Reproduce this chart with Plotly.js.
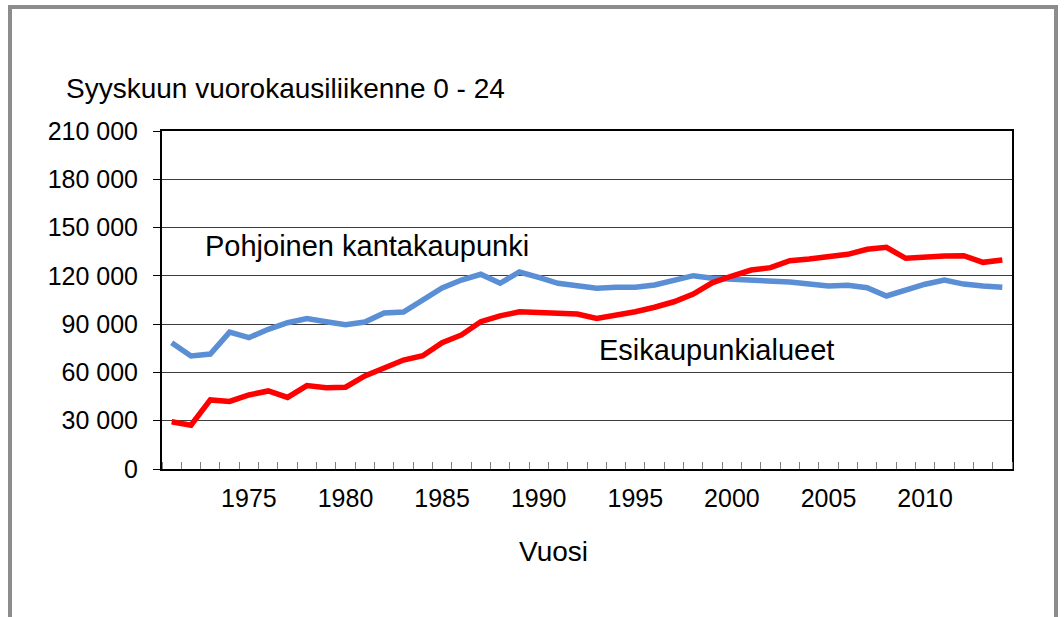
<!DOCTYPE html>
<html>
<head>
<meta charset="utf-8">
<script src="https://cdn.plot.ly/plotly-3.0.1.min.js"></script>
<style>
  body { margin: 0; background: #fff; }
  #graph { width: 1064px; height: 617px; }
  /* harmaa kehys kuvan ympärillä */
  #frame {
    position: absolute; left: 8px; top: 5px;
    width: 1042px; height: 700px;
    border: 4px solid #8c8c8c;
    pointer-events: none;
  }
</style>
</head>
<body>
<div id="graph"></div>
<div id="frame"></div>
<script>
/* Data: syyskuun vuorokausiliikenne 0 - 24 */
const vuodet = [1971, 1972, 1973, 1974, 1975, 1976, 1977, 1978, 1979, 1980,
                1981, 1982, 1983, 1984, 1985, 1986, 1987, 1988, 1989, 1990,
                1991, 1992, 1993, 1994, 1995, 1996, 1997, 1998, 1999, 2000,
                2001, 2002, 2003, 2004, 2005, 2006, 2007, 2008, 2009, 2010,
                2011, 2012, 2013, 2014];

// Pohjoinen kantakaupunki
const kantakaupunki = [78500, 70200, 71400, 85000, 81600, 86800, 90900, 93500, 91500, 89700,
                       91300, 96900, 97500, 105000, 112500, 117400, 121000, 115400, 122400, 119000,
                       115400, 113900, 112300, 112900, 112900, 114300, 117000, 120100, 118500, 118000,
                       117000, 116400, 116200, 114900, 113700, 114100, 112600, 107500, 111200, 114800,
                       117400, 114900, 113700, 112900];

// Esikaupunkialueet
const esikaupunki = [29400, 27200, 42900, 42000, 46000, 48500, 44500, 51800, 50500, 50800,
                     57800, 62900, 67700, 70400, 78500, 83300, 91500, 95100, 97700, 97300,
                     97100, 96300, 93600, 95300, 97700, 100500, 103900, 108700, 115800, 119900,
                     123600, 125100, 129400, 130500, 131900, 133400, 136500, 137700, 130900, 131900,
                     132300, 132500, 128400, 129900];

const tickVuodet = [1975, 1980, 1985, 1990, 1995, 2000, 2005, 2010];
const tickTekstit = ['1975', '1980', '1985', '1990', '1995', '2000', '2005', '2010'];

const fontti = 'Liberation Sans, Arial, sans-serif';

function showGraph(){
    const graph = document.getElementById('graph');

    const layout = {
        width: 1064,
        height: 617,
        margin: {l: 162, r: 52, t: 131, b: 148},
        paper_bgcolor: '#ffffff',
        plot_bgcolor: '#ffffff',
        separators: ', ',
        showlegend: false,
        font: {family: fontti, color: '#000', size: 25},
        title: {
            text: 'Syyskuun vuorokausiliikenne 0 - 24',
            font: {family: fontti, size: 28, color: '#000'},
            xref: 'container', x: 0.062, xanchor: 'left',
            yref: 'container', y: 1 - 88 / 617, yanchor: 'middle'
        },
        xaxis: {
            range: [1970.5, 2014.5],
            tickmode: 'array',
            tickvals: tickVuodet,
            ticktext: tickTekstit,
            ticks: '',
            ticklabelstandoff: 6,
            showgrid: false,
            zeroline: false,
            showline: true,
            linecolor: '#000',
            linewidth: 2,
            mirror: true,
            tickfont: {size: 25},
            minor: {
                tickmode: 'linear',
                tick0: 1970.5,
                dtick: 1,
                ticks: 'inside',
                ticklen: 7,
                tickwidth: 1,
                tickcolor: '#808080',
                showgrid: false
            }
        },
        yaxis: {
            range: [0, 210000],
            tickmode: 'linear',
            tick0: 0,
            dtick: 30000,
            tickformat: ',d',
            ticks: 'outside',
            ticklen: 7,
            tickcolor: '#000',
            tickwidth: 1,
            ticklabelstandoff: 10,
            showgrid: true,
            gridcolor: '#3c3c3c',
            gridwidth: 1,
            zeroline: false,
            showline: true,
            linecolor: '#000',
            linewidth: 2,
            mirror: true,
            tickfont: {size: 25}
        },
        annotations: [
            {
                text: 'Pohjoinen kantakaupunki',
                xref: 'paper', yref: 'paper',
                x: (203 - 162) / 850, y: (469 - 246) / 338,
                xanchor: 'left', yanchor: 'middle',
                showarrow: false,
                font: {size: 29}
            },
            {
                text: 'Esikaupunkialueet',
                xref: 'paper', yref: 'paper',
                x: (597 - 162) / 850, y: (469 - 350) / 338,
                xanchor: 'left', yanchor: 'middle',
                showarrow: false,
                font: {size: 29}
            },
            {
                text: 'Vuosi',
                xref: 'paper', yref: 'paper',
                x: (553 - 162) / 850, y: (469 - 551) / 338,
                xanchor: 'center', yanchor: 'middle',
                showarrow: false,
                font: {size: 28}
            }
        ]
    };

    const config = {staticPlot: true};

    Plotly.newPlot(graph, [
        {
            type: 'scatter',
            mode: 'lines',
            x: vuodet,
            y: kantakaupunki,
            name: 'Pohjoinen kantakaupunki',
            line: {color: '#5a8fd6', width: 5.5}
        },
        {
            type: 'scatter',
            mode: 'lines',
            x: vuodet,
            y: esikaupunki,
            name: 'Esikaupunkialueet',
            line: {color: '#ff0000', width: 5.5}
        }
    ], layout, config);
}

showGraph();
</script>
</body>
</html>
